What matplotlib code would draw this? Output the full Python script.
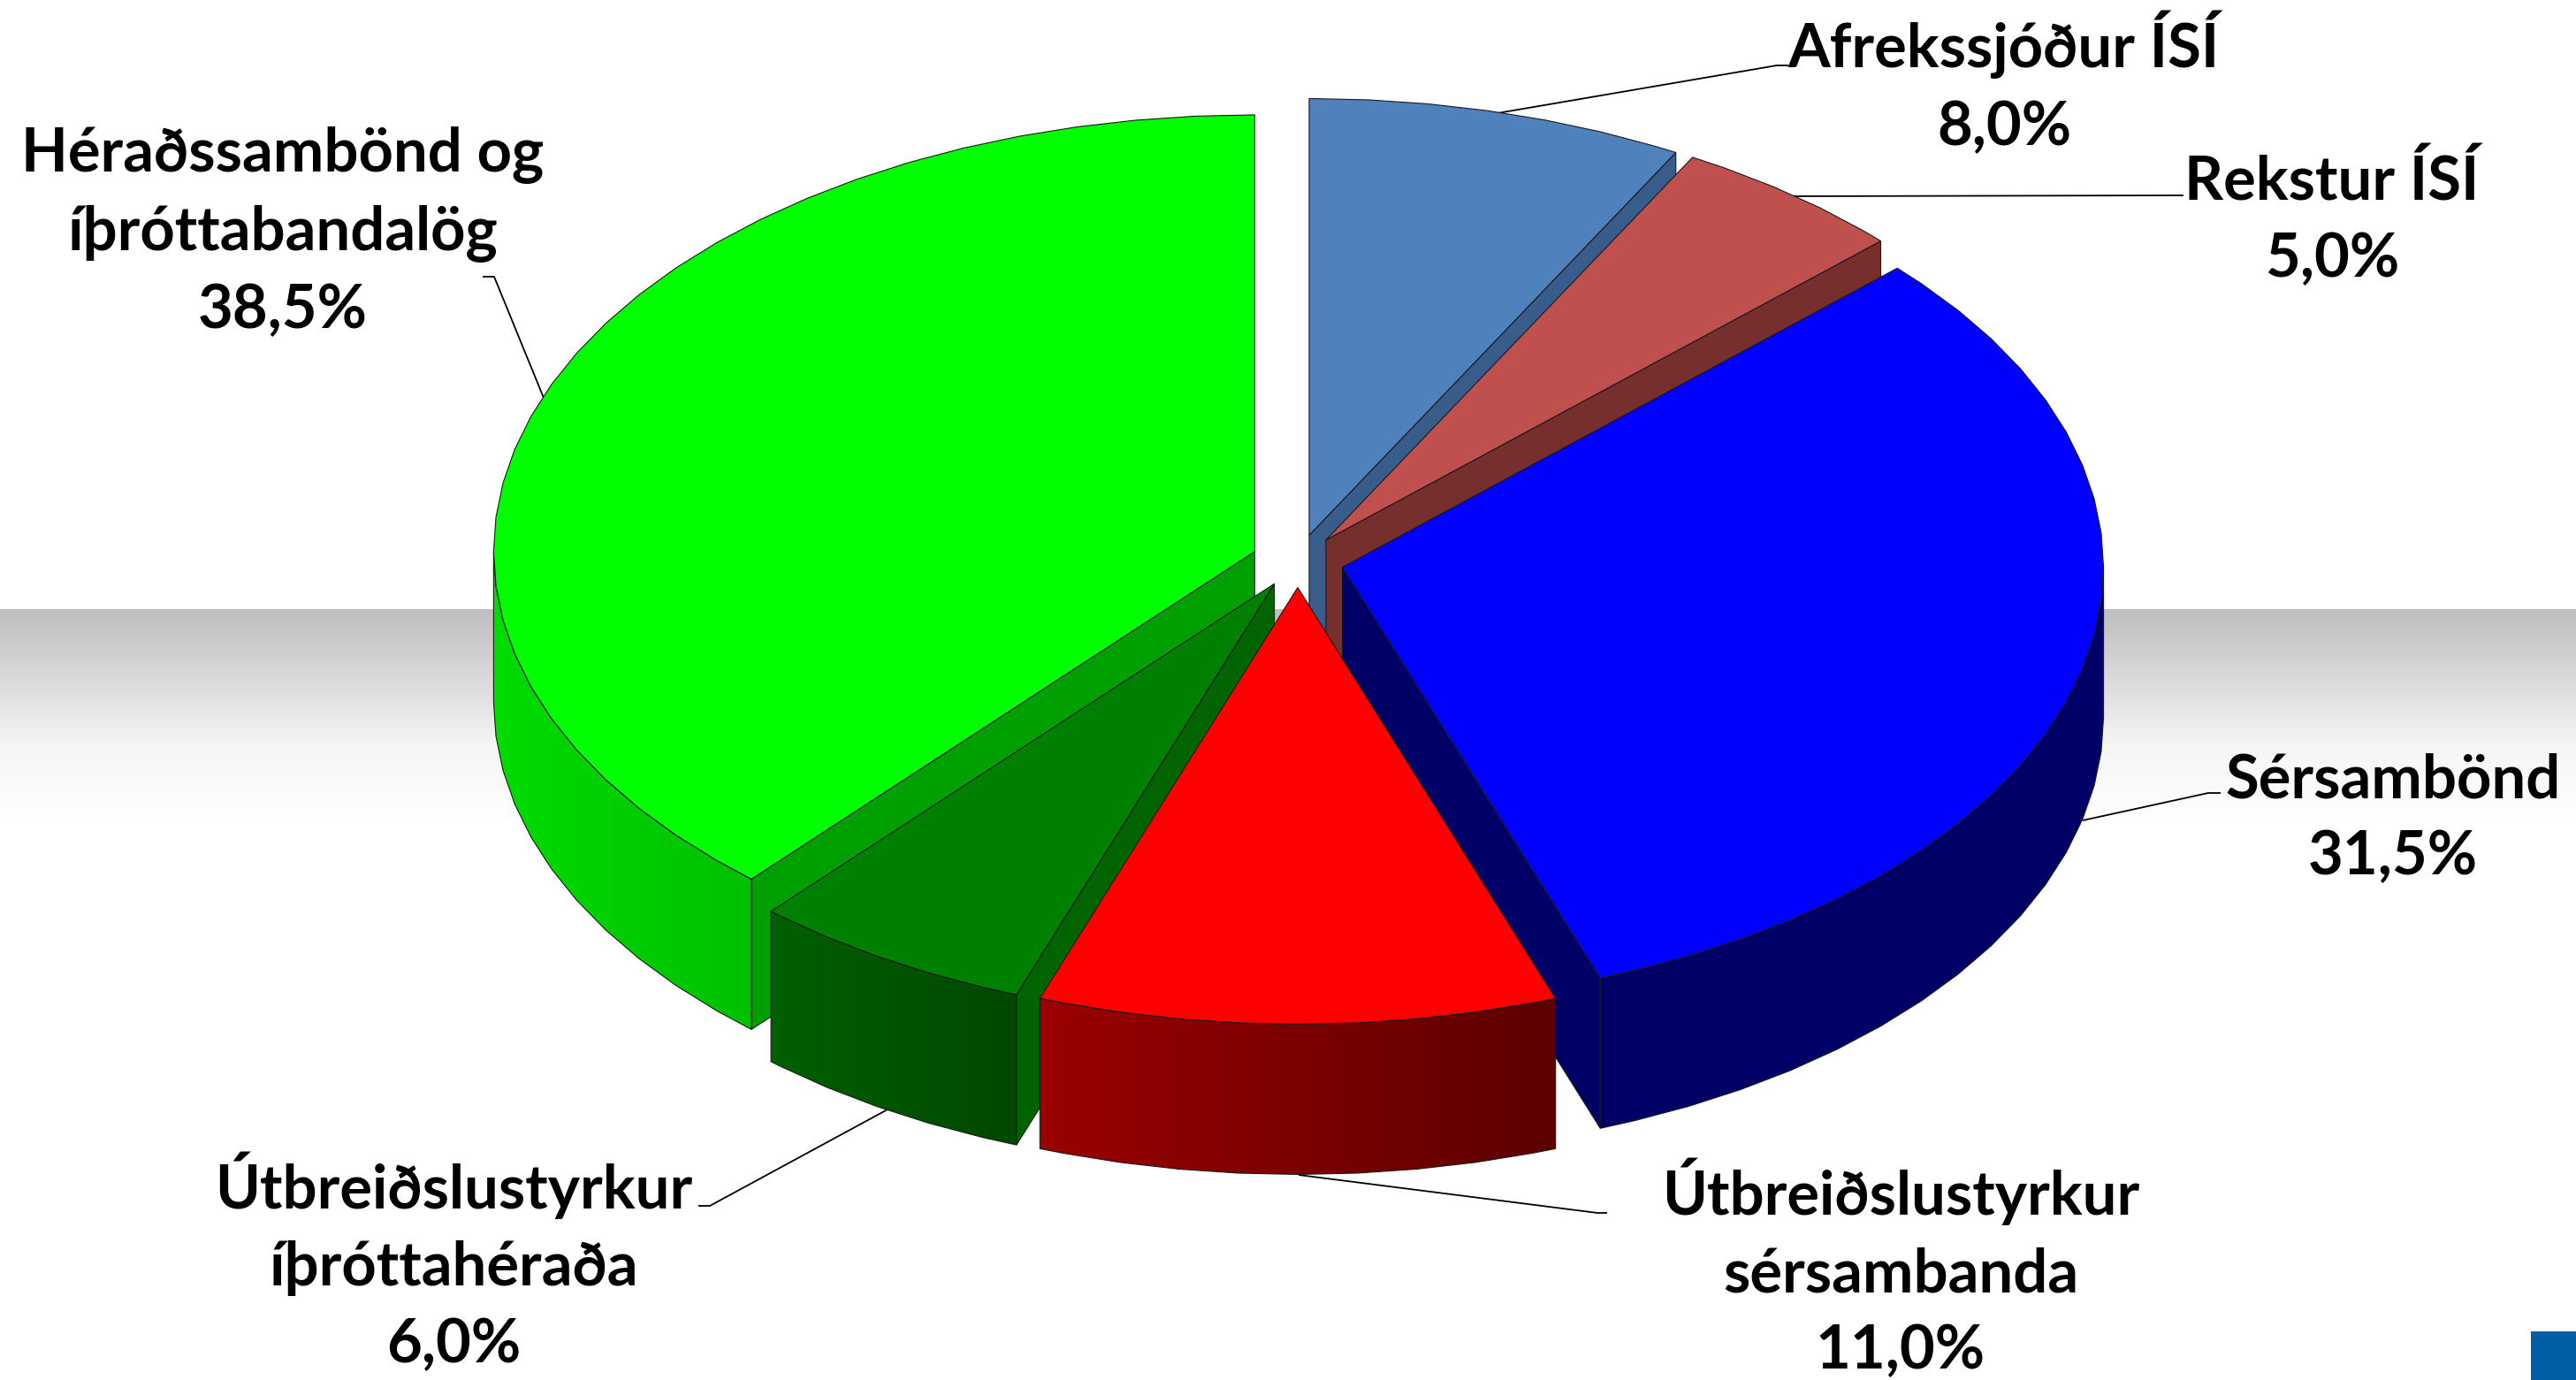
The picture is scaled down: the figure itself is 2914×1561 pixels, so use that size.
import numpy as np
import matplotlib
matplotlib.use("Agg")
import matplotlib.pyplot as plt
from matplotlib.patches import Polygon, Rectangle
from matplotlib.colors import LinearSegmentedColormap

# ---- data ----
categories = ["Afrekssjóður ÍSÍ", "Rekstur ÍSÍ", "Sérsambönd",
              "Útbreiðslustyrkur\nsérsambanda", "Útbreiðslustyrkur\níþróttahéraða",
              "Héraðssambönd og\níþróttabandalög"]
values = [8.0, 5.0, 31.5, 11.0, 6.0, 38.5]
top_colors = ["#4f81bd", "#c0504d", "#0000ff", "#ff0000", "#008000", "#00ff00"]
face_colors = ["#385d8a", "#772f2d", "#000066", "#990000", "#006400", "#00a000"]
wall_left = ["#385d8a", "#772f2d", "#000066", "#9b0000", "#006000", "#00dc00"]
wall_right = ["#385d8a", "#772f2d", "#000066", "#5c0000", "#004800", "#00c000"]
draw_order = [0, 1, 2, 5, 4, 3]
label_centers = [(2267, 94), (2638, 249), (2707, 926), (2150, 1435), (513, 1428), (320, 263)]
leaders = [
    [(1694, 128), (2010, 74), (2023, 74)],
    [(2028, 222), (2470, 221)],
    [(2356, 928), (2498, 897), (2512, 897)],
    [(1469, 1329), (1807, 1372), (1818, 1372)],
    [(1004, 1255), (803, 1364), (790, 1364)],
    [(615, 450), (559, 313), (546, 313)],
]

# ---- geometry ----
W, H = 2914, 1561
CX, CY, RX, RY, DEPTH = 1468, 634.5, 861, 494, 170
EX, EY = 52, 30
STEP = 4.5
EDGE = "#1a1a1a"
LW = 0.8

fig = plt.figure(figsize=(W / 100, H / 100), dpi=100)
ax = fig.add_axes([0, 0, 1, 1])
ax.axis("off")

# backdrop band
band_cmap = LinearSegmentedColormap.from_list(
    "band", [(0, "#bebebe"), (0.65, "#f6f6f6"), (1, "#ffffff")])
ax.imshow(np.linspace(0, 1, 256)[:, None], extent=[0, W, 930, 689], cmap=band_cmap,
          aspect="auto", zorder=0, vmin=0, vmax=1)
ax.add_patch(Rectangle((2863, 1506), W - 2863, H - 1506, fc="#005fa5", ec="none", zorder=0.5))

for pts in leaders:
    xs, ys = zip(*pts)
    ax.plot(xs, ys, color="black", lw=1.3, zorder=1, solid_capstyle="butt")


def arc(a, b):
    inner = np.arange(np.ceil(a / STEP + 1e-6), np.floor(b / STEP - 1e-6) + 1) * STEP
    return np.concatenate(([a], inner, [b]))


def pt(ang, ox, oy, dz=0.0):
    r = np.radians(ang)
    return ox + RX * np.sin(r), oy - RY * np.cos(r) + dz


edges = np.concatenate(([0], np.cumsum(values))) * 3.6
z = 2
for i in draw_order:
    a, b = edges[i], edges[i + 1]
    mid = np.radians((a + b) / 2)
    ox, oy = CX + EX * np.sin(mid), CY - EY * np.cos(mid)

    # radial side faces, when they turn to the viewer
    for ang, vis in ((a, np.sin(np.radians(a)) < -1e-6), (b, np.sin(np.radians(b)) > 1e-6)):
        if vis:
            x1, y1 = pt(ang, ox, oy)
            ax.add_patch(Polygon([(ox, oy), (x1, y1), (x1, y1 + DEPTH), (ox, oy + DEPTH)],
                                 fc=face_colors[i], ec=EDGE, lw=LW, zorder=z))
            z += 1

    # outer wall (front half of the rim)
    wa, wb = max(a, 90), min(b, 270)
    if wb > wa:
        angs = arc(wa, wb)
        xs, ys = pt(angs, ox, oy)
        poly = np.vstack([np.c_[xs, ys], np.c_[xs[::-1], ys[::-1] + DEPTH]])
        patch = Polygon(poly, fc="none", ec=EDGE, lw=LW, zorder=z + 1)
        ax.add_patch(patch)
        cm = LinearSegmentedColormap.from_list("w", [wall_left[i], wall_right[i]])
        im = ax.imshow(np.linspace(0, 1, 256)[None, :], cmap=cm, aspect="auto", zorder=z,
                       extent=[poly[:, 0].min(), poly[:, 0].max(), poly[:, 1].max(), poly[:, 1].min()])
        im.set_clip_path(patch)
        z += 2

    # top surface
    angs = arc(a, b)
    xs, ys = pt(angs, ox, oy)
    ax.add_patch(Polygon(np.vstack([[ox, oy], np.c_[xs, ys]]), fc=top_colors[i], ec=EDGE,
                         lw=LW, zorder=z, joinstyle="miter"))
    z += 1

for name, v, (tx, ty) in zip(categories, values, label_centers):
    label = f"{name}\n{v:.1f}%".replace(".", ",")
    ax.text(tx, ty, label, ha="center", va="center", family="Lato", weight="bold",
            fontsize=49.5, linespacing=1.47, color="black", zorder=z + 1)

ax.set_xlim(0, W)
ax.set_ylim(H, 0)
fig.savefig("out.png", dpi=100, facecolor="white")
